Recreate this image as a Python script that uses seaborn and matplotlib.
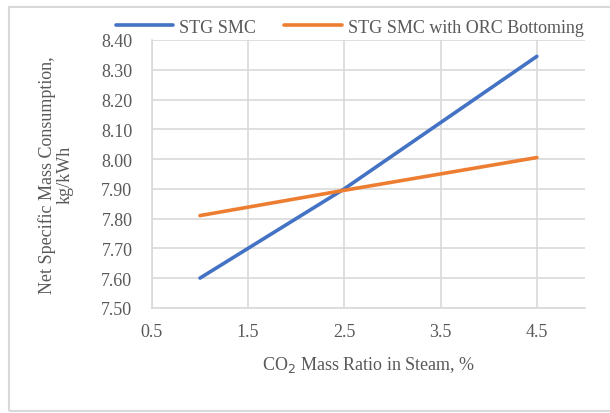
import matplotlib
matplotlib.use("Agg")
import matplotlib.pyplot as plt
import seaborn as sns
import pandas as pd
from matplotlib.patches import Rectangle

# values
co2_ratio = [1.0, 2.5, 4.5]
stg_smc = [7.60, 7.90, 8.345]
stg_smc_orc = [7.81, 7.895, 8.005]
series_names = ["STG SMC", "STG SMC with ORC Bottoming"]
x_ticks = [0.5, 1.5, 2.5, 3.5, 4.5]
y_ticks = [7.5, 7.6, 7.7, 7.8, 7.9, 8.0, 8.1, 8.2, 8.3, 8.4]

df = pd.DataFrame({
    "x": co2_ratio * 2,
    "y": stg_smc + stg_smc_orc,
    "series": [series_names[0]] * len(co2_ratio) + [series_names[1]] * len(co2_ratio),
})

sns.set_style("white")
plt.rcParams["font.family"] = ["Liberation Serif", "DejaVu Serif"]
text_color = "#595959"
grid_color = "#d9d9d9"

fig = plt.figure(figsize=(6.1, 4.14), dpi=100)
ax = fig.add_axes([0.249, 0.254, 0.71, 0.647])

sns.lineplot(data=df, x="x", y="y", hue="series", palette=["#4472c4", "#ed7d31"],
             linewidth=2.6, ax=ax, legend=False, sort=True)

ax.set_xlim(0.5, 5.0)
ax.set_ylim(7.5, 8.4)
ax.set_xticks(x_ticks)
ax.set_xticklabels([f"{v:.1f}" for v in x_ticks])
ax.set_yticks(y_ticks)
ax.set_yticklabels([f"{v:.2f}" for v in y_ticks])
ax.grid(True, color=grid_color, linewidth=1.2)
for side in ["top", "right"]:
    ax.spines[side].set_visible(False)
for side in ["left", "bottom"]:
    ax.spines[side].set_color(grid_color)
    ax.spines[side].set_linewidth(1.2)
ax.tick_params(axis="both", length=0, labelsize=13, labelcolor=text_color)
ax.tick_params(axis="x", pad=11)
ax.tick_params(axis="y", pad=14)

ax.set_xlabel("CO$_2$ Mass Ratio in Steam, %", fontsize=13, color=text_color, labelpad=10)
ax.set_ylabel("Net Specific Mass Consumption,\nkg/kWh", fontsize=13, color=text_color,
              labelpad=20, linespacing=1.05)

handles = [plt.Line2D([], [], color="#4472c4", linewidth=2.6),
           plt.Line2D([], [], color="#ed7d31", linewidth=2.6)]
fig.legend(handles, series_names, loc="center", bbox_to_anchor=(0.573, 0.932), ncol=2,
           frameon=False, fontsize=13, labelcolor=text_color, handlelength=3.2,
           handletextpad=0.3, columnspacing=1.6, borderpad=0, borderaxespad=0)

# outer chart border (right side runs off the image in the reference)
fig.patches.append(Rectangle((0.014, 0.005), 1.0, 0.976, transform=fig.transFigure,
                             fill=False, edgecolor=grid_color, linewidth=1.5))

fig.savefig("out.png", dpi=100)
